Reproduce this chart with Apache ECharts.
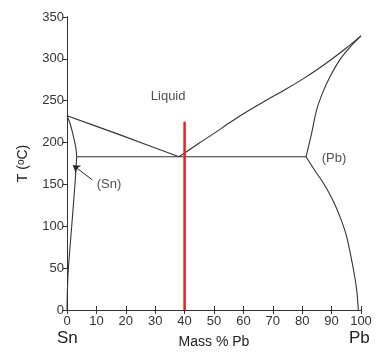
<!DOCTYPE html>
<html>
<head>
<meta charset="utf-8">
<script src="https://cdn.jsdelivr.net/npm/echarts@6/dist/echarts.min.js"></script>
<style>
  html, body { margin: 0; padding: 0; background: #fff; }
  #main { width: 380px; height: 354px; }
</style>
</head>
<body>
<div id="main"></div>
<script>
// phase boundaries, [mass % Pb, T in C]
var liquidusLeft = [[0, 232], [19, 208], [38.1, 183]];
var liquidusRight = [[38.1, 183], [45, 199.5], [50, 211], [55, 223], [60, 234.5], [65, 245], [70, 255], [75, 265], [80, 275.5], [85, 287], [90, 299.5], [95, 313], [100, 327.5]];
var solidusLeft = [[0, 232], [1.2, 221], [2.2, 207], [3.0, 194], [3.3, 183]];
var solvusLeft = [[3.3, 183], [2.7, 150], [1.6, 100], [0.45, 49], [0.15, 25], [0, 0]];
var solidusRight = [[81.3, 183], [83.2, 211], [84.9, 239], [87, 260], [89.5, 279], [93, 300], [96.5, 315], [100, 327.5]];
var solvusRight = [[81.3, 183], [84.4, 166], [87.5, 150], [90.6, 130], [93, 110], [95.1, 88], [97.4, 49], [98.5, 25], [99.1, 0]];
var eutectic = [[3.3, 183], [81.3, 183]];
var alloyLine = [[40, 0], [40, 225]];
var snArrow = [[8.6, 155.5], [2.0, 173]];
var regionLabels = [
  { name: 'Liquid', value: [34.4, 255] },
  { name: '(Pb)', value: [90.8, 181] },
  { name: '(Sn)', value: [14.3, 150] }
];

var myChart = echarts.init(document.getElementById('main'));

function boundary(data) {
  return {
    type: 'line',
    data: data,
    showSymbol: false,
    smooth: 0.3,
    silent: true,
    lineStyle: { color: '#333', width: 1.1 },
    z: 3
  };
}

var font = 'Liberation Sans, Arial, sans-serif';

var option = {
  animation: false,
  textStyle: { fontFamily: font },
  grid: { left: 67, right: 19, top: 17, bottom: 43 },
  xAxis: [
    {
      type: 'value', min: 0, max: 100, interval: 10,
      name: 'Mass % Pb', nameLocation: 'middle', nameGap: 25,
      nameTextStyle: { color: '#222', fontSize: 14, fontFamily: font },
      axisLine: { lineStyle: { color: '#333' } },
      axisTick: { inside: true, length: 4, lineStyle: { color: '#333' } },
      axisLabel: { color: '#333', fontSize: 13, margin: 5, fontFamily: font },
      splitLine: { show: false }
    },
    {
      type: 'value', position: 'top', min: 0, max: 100, interval: 10,
      axisLine: { show: true, lineStyle: { color: '#333' } },
      axisTick: { show: true, inside: true, length: 4, lineStyle: { color: '#333' } },
      axisLabel: { show: false },
      splitLine: { show: false }
    }
  ],
  yAxis: [
    {
      type: 'value', min: 0, max: 350, interval: 50,
      name: 'T ({sup|o}C)', nameLocation: 'middle', nameGap: 37, nameRotate: 90,
      nameTextStyle: {
        color: '#222', fontSize: 14, fontFamily: font,
        rich: { sup: { fontSize: 10, verticalAlign: 'top', lineHeight: 12, fontFamily: font, color: '#222' } }
      },
      axisLine: { show: true, lineStyle: { color: '#333' } },
      axisTick: { show: true, length: 4, lineStyle: { color: '#333' } },
      axisLabel: { color: '#333', fontSize: 13, margin: 3, fontFamily: font },
      splitLine: { show: false }
    },
    {
      type: 'value', position: 'right', min: 0, max: 350, interval: 50,
      axisLine: { show: true, lineStyle: { color: '#333' } },
      axisTick: { show: true, inside: true, length: 4, lineStyle: { color: '#333' } },
      axisLabel: { show: false },
      splitLine: { show: false }
    }
  ],
  series: [
    boundary(liquidusLeft),
    boundary(liquidusRight),
    boundary(solidusLeft),
    boundary(solvusLeft),
    boundary(solidusRight),
    boundary(solvusRight),
    Object.assign(boundary(eutectic), { smooth: false }),
    {
      type: 'line',
      data: alloyLine,
      showSymbol: false,
      silent: true,
      lineStyle: { color: '#e8231f', width: 2.5 },
      z: 4
    },
    {
      type: 'lines',
      coordinateSystem: 'cartesian2d',
      silent: true,
      symbol: ['none', 'arrow'],
      symbolSize: 7,
      data: [{ coords: snArrow }],
      lineStyle: { color: '#222', width: 1, opacity: 1 },
      z: 5
    },
    {
      type: 'scatter',
      data: regionLabels,
      symbolSize: 0,
      silent: true,
      label: {
        show: true, position: 'inside', formatter: '{b}',
        color: '#222', fontSize: 13, fontFamily: font
      }
    }
  ],
  graphic: [
    { type: 'text', left: 57, top: 330, style: { text: 'Sn', fontSize: 17, fill: '#222', fontFamily: font } },
    { type: 'text', left: 349, top: 330, style: { text: 'Pb', fontSize: 17, fill: '#222', fontFamily: font } }
  ]
};

myChart.setOption(option);
</script>
</body>
</html>
